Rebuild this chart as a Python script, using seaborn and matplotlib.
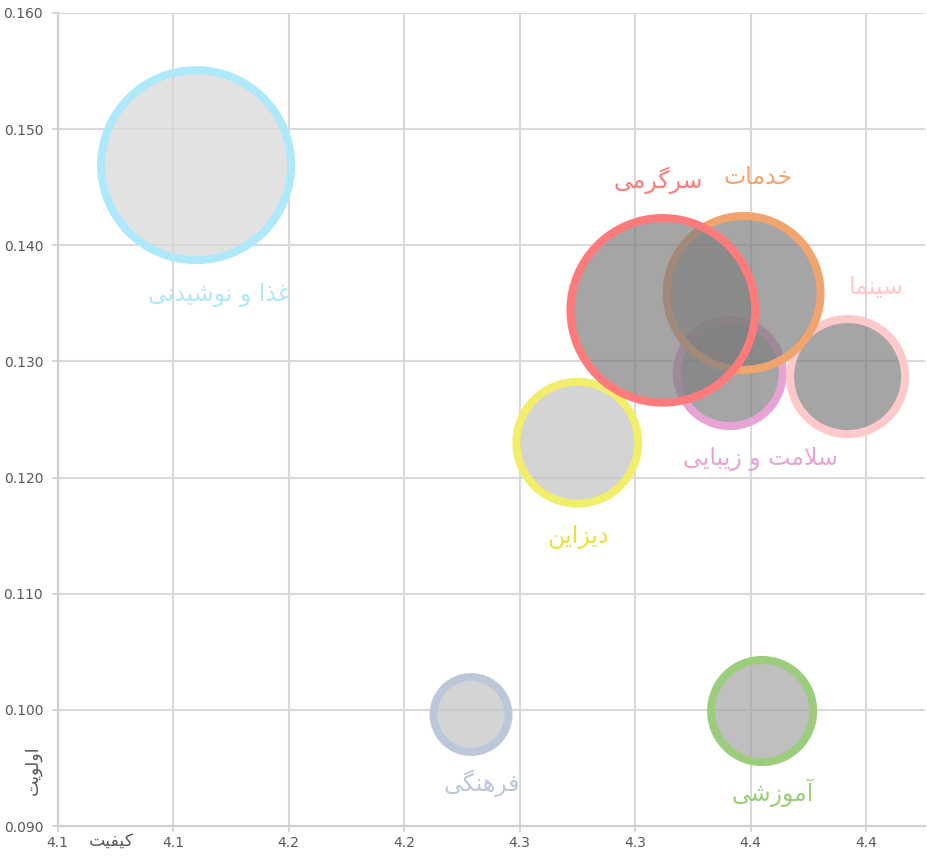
import matplotlib
matplotlib.use("Agg")
import matplotlib.pyplot as plt
import matplotlib.ticker as mticker
from matplotlib.colors import to_rgba
import seaborn as sns
import pandas as pd

# ---------------- data ----------------
categories = ['غذا و نوشیدنی', 'فرهنگی', 'آموزشی', 'دیزاین',
              'سلامت و زیبایی', 'سینما', 'خدمات', 'سرگرمی']
quality = [4.110, 4.229, 4.355, 4.275, 4.341, 4.392, 4.347, 4.312]
priority = [0.1469, 0.0996, 0.0999, 0.1230, 0.1290, 0.1287, 0.1359, 0.1344]
bubble = [90, 14, 26, 37, 28, 33, 59, 85]

x_ticks = [4.05, 4.10, 4.15, 4.20, 4.25, 4.30, 4.35, 4.40]
x_tick_labels = ['4.1', '4.1', '4.2', '4.2', '4.3', '4.3', '4.4', '4.4']
y_ticks = [0.090, 0.100, 0.110, 0.120, 0.130, 0.140, 0.150, 0.160]
x_title = 'کیفیت'
y_title = 'اولویت'

# ---------------- styles ----------------
edge_colors = ['#aee8fb', '#bcc8da', '#9ccd7c', '#f1ee6c',
               '#e8a3d5', '#ffc8ca', '#f2a46e', '#ff7a7a']
label_colors = ['#aee8fb', '#bcc8da', '#9ccd7c', '#e9e13a',
                '#e8a3d5', '#ffc8ca', '#f2a46e', '#ff7a7a']
face_colors = ['#d7d7d7', '#c2c2c2', '#a5a5a5', '#c2c2c2',
               '#7f7f7f', '#7f7f7f', '#7f7f7f', '#7f7f7f']
label_offsets_px = [(23.5, -129.5), (10.5, -69), (11, -82), (1, -94),
                    (30.5, -85.5), (28.5, 89.5), (14, 115.5), (-5, 130)]

# ---------------- minimal Persian shaping ----------------
DUAL = {
    'ب': '\uFE8F\uFE90\uFE91\uFE92', 'ت': '\uFE95\uFE96\uFE97\uFE98',
    'خ': '\uFEA5\uFEA6\uFEA7\uFEA8', 'س': '\uFEB1\uFEB2\uFEB3\uFEB4',
    'ش': '\uFEB5\uFEB6\uFEB7\uFEB8', 'غ': '\uFECD\uFECE\uFECF\uFED0',
    'ف': '\uFED1\uFED2\uFED3\uFED4', 'ل': '\uFEDD\uFEDE\uFEDF\uFEE0',
    'م': '\uFEE1\uFEE2\uFEE3\uFEE4', 'ن': '\uFEE5\uFEE6\uFEE7\uFEE8',
    'ه': '\uFEE9\uFEEA\uFEEB\uFEEC', 'ی': '\uFBFC\uFBFD\uFBFE\uFBFF',
    'ک': '\uFB8E\uFB8F\uFB90\uFB91', 'گ': '\uFB92\uFB93\uFB94\uFB95',
}
RIGHT = {
    'ا': '\uFE8D\uFE8E', 'آ': '\uFE81\uFE82', 'د': '\uFEA9\uFEAA',
    'ذ': '\uFEAB\uFEAC', 'ر': '\uFEAD\uFEAE', 'ز': '\uFEAF\uFEB0',
    'و': '\uFEED\uFEEE',
}


def shape(text):
    chars = list(text)
    n = len(chars)
    out = []
    prev = False
    i = 0
    while i < n:
        c = chars[i]
        if c == 'ل' and i + 1 < n and chars[i + 1] == 'ا':
            out.append('\uFEFC' if prev else '\uFEFB')
            prev = False
            i += 2
            continue
        if c in DUAL:
            nxt = chars[i + 1] if i + 1 < n else ''
            jn = nxt in DUAL or nxt in RIGHT
            f = DUAL[c]
            if prev and jn:
                g = f[3]
            elif prev:
                g = f[1]
            elif jn:
                g = f[2]
            else:
                g = f[0]
            out.append(g)
            prev = jn
        elif c in RIGHT:
            f = RIGHT[c]
            out.append(f[1] if prev else f[0])
            prev = False
        else:
            out.append(c)
            prev = False
        i += 1
    return ''.join(reversed(out))


# ---------------- plot ----------------
sns.set_theme(style='white')
plt.rcParams['font.family'] = ['DejaVu Sans']

W, H, DPI = 927, 856, 100
fig = plt.figure(figsize=(W / DPI, H / DPI), dpi=DPI)
ax = fig.add_axes([57.5 / W, 30 / H, (925 - 57.5) / W, (826 - 13) / H])

df = pd.DataFrame({'category': categories, 'quality': quality,
                   'priority': priority, 'bubble': bubble})

px2pt = 72 / DPI
# marker area s = (diameter in points)^2 ; area proportional to bubble value
s_max = (2 * 95 * px2pt) ** 2
sns.scatterplot(data=df, x='quality', y='priority', size='bubble',
                sizes=(0, s_max * max(bubble) / 90), size_norm=(0, max(bubble)),
                legend=False, ax=ax, zorder=3)
coll = ax.collections[0]
coll.set_facecolors([to_rgba(c, 0.7) for c in face_colors])
coll.set_edgecolors(edge_colors)
coll.set_linewidths(8 * px2pt)

for cat, xv, yv, col, (dx, dy) in zip(categories, quality, priority,
                                       label_colors, label_offsets_px):
    ax.annotate(shape(cat), (xv, yv), xytext=(dx * px2pt, dy * px2pt),
                textcoords='offset points', ha='center', va='center',
                fontsize=17, color=col, zorder=5)

ax.set_xlim(4.05, 4.4255)
ax.set_ylim(0.090, 0.160)
ax.set_xticks(x_ticks)
ax.set_xticklabels(x_tick_labels)
ax.set_yticks(y_ticks)
ax.yaxis.set_major_formatter(mticker.FormatStrFormatter('%.3f'))

ax.grid(True, color='#d9d9d9', linewidth=1.5, zorder=0)
ax.set_axisbelow(True)
for side in ['top', 'right']:
    ax.spines[side].set_visible(False)
for side in ['left', 'bottom']:
    ax.spines[side].set_color('#cfcfcf')
    ax.spines[side].set_linewidth(1.5)
ax.tick_params(axis='both', which='major', direction='out', length=4.3,
               width=1.2, color='#cfcfcf', labelsize=10, labelcolor='#595959',
               bottom=True, left=True)
ax.tick_params(axis='x', pad=3)
ax.tick_params(axis='y', pad=6)

ax.set_xlabel('')
ax.set_ylabel('')
fig.text(111 / W, 1 - 842 / H, shape(x_title), ha='center', va='center',
         fontsize=12.5, color='#595959')
fig.text(33 / W, 1 - 770 / H, shape(y_title), ha='center', va='center',
         rotation=90, fontsize=12.5, color='#595959')

fig.savefig('out.png', dpi=DPI)
